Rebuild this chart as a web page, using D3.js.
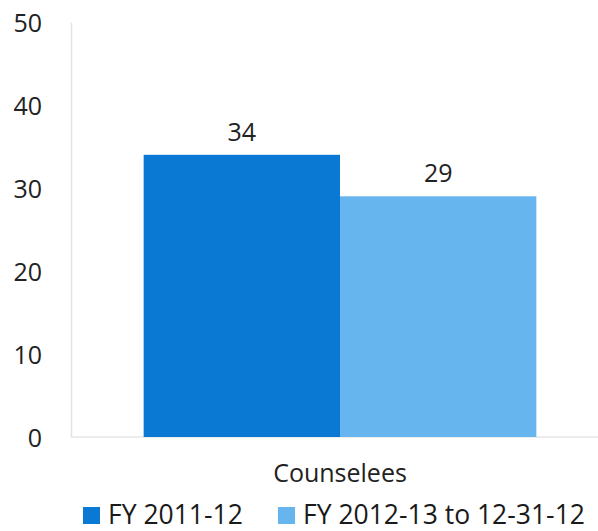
<!DOCTYPE html>
<html>
<head>
<meta charset="utf-8">
<script src="https://cdn.jsdelivr.net/npm/d3@7"></script>
<style>
  body { margin: 0; background: #fff; }
  text { font-family: "Open Sans", sans-serif; fill: #222; }
</style>
</head>
<body>
<div id="chart"></div>
<script>
// data
var categories = ["Counselees"];
var seriesNames = ["FY 2011-12", "FY 2012-13 to 12-31-12"];
var seriesValues = [34, 29];
var seriesColors = ["#0a79d4", "#66b5ee"];
var yTicks = [0, 10, 20, 30, 40, 50];

var width = 598, height = 531;

var svg = d3.select("#chart")
  .append("svg")
  .attr("width", width)
  .attr("height", height);

// scales
var yscale = d3.scaleLinear().domain([0, 50]).range([437, 22]);
var xscale = d3.scaleBand().domain(categories).range([71, 609]);
var inner = d3.scaleBand().domain(seriesNames)
  .range([0, xscale.bandwidth()]).paddingInner(0).paddingOuter(0.37);

// y axis
var yAxis = d3.axisLeft(yscale).tickValues(yTicks).tickSize(0).tickPadding(29);
var gy = svg.append("g").attr("transform", "translate(71,0)").call(yAxis);
gy.select(".domain").attr("stroke", "#e4e4e4").attr("stroke-width", 1.5);
gy.selectAll("text").attr("font-size", 25).attr("dy", "0.36em");

// baseline
svg.append("line")
  .attr("x1", 71).attr("x2", width)
  .attr("y1", yscale(0)).attr("y2", yscale(0))
  .attr("stroke", "#e6e6e6").attr("stroke-width", 1.5);

// bars
var bars = svg.selectAll("g.bar").data(seriesValues).enter();

bars.append("rect")
  .attr("x", function(d, i) { return xscale(categories[0]) + inner(seriesNames[i]); })
  .attr("y", function(d) { return yscale(d); })
  .attr("width", inner.bandwidth())
  .attr("height", function(d) { return yscale(0) - yscale(d); })
  .attr("fill", function(d, i) { return seriesColors[i]; });

bars.append("text")
  .text(function(d) { return d; })
  .attr("x", function(d, i) { return xscale(categories[0]) + inner(seriesNames[i]) + inner.bandwidth() / 2; })
  .attr("y", function(d) { return yscale(d) - 14; })
  .attr("text-anchor", "middle")
  .attr("font-size", 25);

// category label
svg.append("text")
  .text(categories[0])
  .attr("x", xscale(categories[0]) + xscale.bandwidth() / 2)
  .attr("y", 482)
  .attr("text-anchor", "middle")
  .attr("font-size", 25);

// legend (kept just inside the bottom edge)
var legendX = [83, 278];
var legend = svg.selectAll("g.legend").data(seriesNames).enter()
  .append("g")
  .attr("transform", function(d, i) { return "translate(" + legendX[i] + ",507)"; });

legend.append("rect")
  .attr("width", 17).attr("height", 17)
  .attr("fill", function(d, i) { return seriesColors[i]; });

legend.append("text")
  .text(function(d) { return d; })
  .attr("x", 25)
  .attr("y", 17)
  .attr("font-size", 26.5)
  .style("fill", "#1a1a1a");
</script>
</body>
</html>
